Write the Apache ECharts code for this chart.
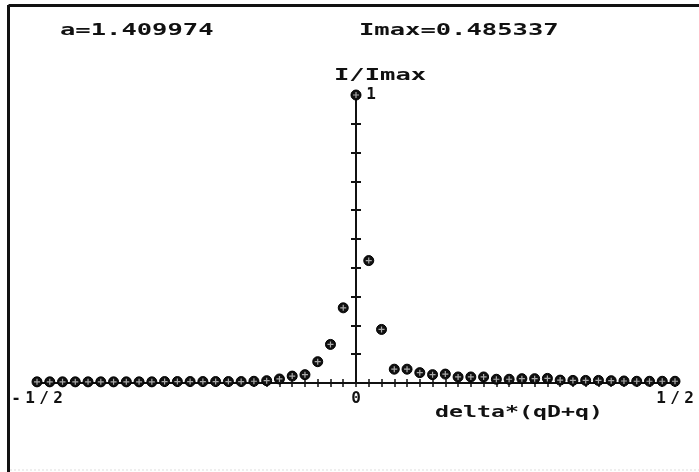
<!DOCTYPE html>
<html>
<head>
<meta charset="utf-8">
<script src="https://cdn.jsdelivr.net/npm/echarts@6/dist/echarts.min.js"></script>
<style>html,body{margin:0;padding:0;background:#fff;}#c{width:699px;height:472px;}</style>
</head>
<body>
<div id="c"></div>
<script>
// Data
const xValues = [-0.50,-0.48,-0.46,-0.44,-0.42,-0.40,-0.38,-0.36,-0.34,-0.32,-0.30,-0.28,-0.26,-0.24,-0.22,-0.20,-0.18,-0.16,-0.14,-0.12,-0.10,-0.08,-0.06,-0.04,-0.02,0.00,0.02,0.04,0.06,0.08,0.10,0.12,0.14,0.16,0.18,0.20,0.22,0.24,0.26,0.28,0.30,0.32,0.34,0.36,0.38,0.40,0.42,0.44,0.46,0.48,0.50];
const intensity = [0.004,0.004,0.004,0.004,0.004,0.004,0.004,0.004,0.004,0.004,0.005,0.005,0.005,0.005,0.005,0.005,0.005,0.006,0.008,0.014,0.024,0.029,0.074,0.134,0.261,1.000,0.425,0.186,0.048,0.048,0.036,0.029,0.031,0.021,0.021,0.021,0.013,0.013,0.015,0.015,0.016,0.010,0.009,0.009,0.009,0.008,0.007,0.006,0.006,0.006,0.006];
const xTickValues = [-0.5, 0, 0.5];
const xTickLabels = ['-1/2', '0', '1/2'];
const yTickValues = [1];
const yTickLabels = ['1'];
const headerA = 'a=1.409974';
const headerImax = 'Imax=0.485337';
const yName = 'I/Imax';
const xName = 'delta*(qD+q)';

const FONT = 'DejaVu Sans Mono';
const W = 699, H = 472;
const G = { left: 37, right: 24, top: 95, bottom: 89 };
const X_MIN = -0.5, X_MAX = 0.5;
// y axis sits where x = 0 on the x scale
const yAxisOffset = -((0 - X_MIN) / (X_MAX - X_MIN)) * (W - G.left - G.right);

function spaced(s) {
  return s.split('').map(ch => '{c|' + ch + '}').join('');
}
function findLabel(v, vals, labels) {
  for (let i = 0; i < vals.length; i++) if (Math.abs(v - vals[i]) < 1e-6) return labels[i];
  return '';
}
const richChar = { c: { fontFamily: FONT, fontWeight: 'bold', fontSize: 16, color: '#111', width: 14, align: 'center' } };

const chart = echarts.init(document.getElementById('c'), null, { renderer: 'canvas' });
const pts = xValues.map((x, i) => [x, intensity[i]]);

function headerText(text, x, y, sx) {
  return { type: 'text', x: x, y: y, scaleX: sx, scaleY: 1,
    style: { text: text, x: 0, y: 0, fill: '#111', font: 'bold 15px "' + FONT + '"', textAlign: 'left', textVerticalAlign: 'middle', verticalAlign: 'middle' } };
}

chart.setOption({
  backgroundColor: '#fff',
  animation: false,
  grid: { left: G.left, right: G.right, top: G.top, bottom: G.bottom, containLabel: false },
  xAxis: [
    { type: 'value', min: X_MIN, max: X_MAX, interval: 0.02, position: 'bottom',
      axisLine: { show: true, onZero: false, lineStyle: { color: '#111', width: 2 } },
      axisTick: { show: true, inside: false, length: 4, lineStyle: { color: '#111', width: 1.5 } },
      splitLine: { show: false },
      axisLabel: { show: true, margin: 8, formatter: v => { const t = findLabel(v, xTickValues, xTickLabels); return t ? spaced(t) : ''; }, rich: richChar } },
    { type: 'value', min: X_MIN, max: X_MAX, interval: 0.02, position: 'bottom',
      axisLine: { show: false, onZero: false },
      axisTick: { show: true, inside: true, length: 4, lineStyle: { color: '#111', width: 1.5 } },
      splitLine: { show: false }, axisLabel: { show: false } }
  ],
  yAxis: [
    { type: 'value', min: 0, max: 1, interval: 0.1, position: 'left', offset: yAxisOffset,
      axisLine: { show: true, onZero: false, lineStyle: { color: '#111', width: 2 } },
      axisTick: { show: true, inside: false, length: 5, lineStyle: { color: '#111', width: 2 } },
      splitLine: { show: false },
      axisLabel: { show: true, inside: true, margin: 8, formatter: v => { const t = findLabel(v, yTickValues, yTickLabels); return t ? spaced(t) : ''; }, rich: richChar } },
    { type: 'value', min: 0, max: 1, interval: 0.1, position: 'left', offset: yAxisOffset,
      axisLine: { show: false, onZero: false },
      axisTick: { show: true, inside: true, length: 5, lineStyle: { color: '#111', width: 2 } },
      splitLine: { show: false }, axisLabel: { show: false } }
  ],
  series: [
    { type: 'scatter', xAxisIndex: 0, yAxisIndex: 0, data: pts, symbol: 'circle', symbolSize: 10, clip: false, z: 3,
      itemStyle: { color: '#111', borderColor: '#000', borderWidth: 1, opacity: 1 } },
    { type: 'scatter', xAxisIndex: 0, yAxisIndex: 0, data: pts, symbol: 'path://M0,4H10V6H0Z M4,0H6V10H4Z', symbolSize: 6, clip: false, z: 4, silent: true,
      itemStyle: { color: '#aaa', opacity: 1 } }
  ],
  graphic: [
    { type: 'line', shape: { x1: 8.5, y1: 5.5, x2: 699, y2: 5.5 }, style: { stroke: '#111', lineWidth: 3 } },
    { type: 'line', shape: { x1: 8.5, y1: 5, x2: 8.5, y2: 472 }, style: { stroke: '#111', lineWidth: 3 } },
    { type: 'line', shape: { x1: 10, y1: 470, x2: 699, y2: 470 }, style: { stroke: '#ddd', lineWidth: 1, lineDash: [2, 2] } },
    headerText(headerA, 60, 31, 1.7),
    headerText(headerImax, 359, 31, 1.7),
    headerText(yName, 334, 76, 1.7),
    headerText(xName, 435, 413, 1.55)
  ]
});
</script>
</body>
</html>
